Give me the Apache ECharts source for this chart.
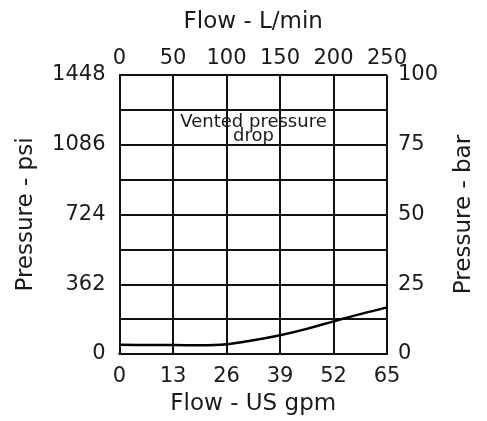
<!DOCTYPE html>
<html>
<head>
<meta charset="utf-8">
<script src="https://cdn.jsdelivr.net/npm/echarts@6/dist/echarts.min.js"></script>
<style>
html,body{margin:0;padding:0;background:#fff;}
#chart{width:487px;height:421px;}
</style>
</head>
<body>
<div id="chart"></div>
<script>
// Flow in US gpm (bottom axis)
var flowGpm = [0, 6.5, 13, 19.5, 26, 32.5, 39, 45.5, 52, 58.5, 65];
// Pressure drop in bar (right axis)
var pressureBar = [3.3, 3.25, 3.2, 3.15, 3.5, 4.9, 6.7, 9.0, 11.7, 14.3, 16.7];
var gpmTicks = [0, 13, 26, 39, 52, 65];
var lpmTicks = [0, 50, 100, 150, 200, 250];
var psiTicks = [0, 362, 724, 1086, 1448];
var barTicks = [0, 25, 50, 75, 100];
var annotation = "Vented pressure\ndrop";

var FONT = '"DejaVu Sans", sans-serif';
var TXT = '#1a1a1a';
var chart = echarts.init(document.getElementById('chart'));
var data = flowGpm.map(function (x, i) { return [x, pressureBar[i]]; });

chart.setOption({
  animation: false,
  backgroundColor: '#fff',
  grid: { left: 119.5, right: 100, top: 75, bottom: 61, containLabel: false },
  xAxis: [
    {
      type: 'value', position: 'bottom', min: gpmTicks[0], max: gpmTicks[gpmTicks.length - 1], interval: 13,
      name: 'Flow - US gpm', nameLocation: 'middle', nameGap: 39,
      nameTextStyle: { fontSize: 23, color: TXT, fontFamily: FONT },
      axisLine: { show: true, lineStyle: { color: '#111', width: 2 } },
      axisTick: { show: false },
      axisLabel: { fontSize: 21, color: TXT, fontFamily: FONT, margin: 12, formatter: function (v) { return String(v); } },
      splitLine: { show: true, lineStyle: { color: '#111', width: 2 } }
    },
    {
      type: 'value', position: 'top', min: lpmTicks[0], max: lpmTicks[lpmTicks.length - 1], interval: 50,
      name: 'Flow - L/min', nameLocation: 'middle', nameGap: 41,
      nameTextStyle: { fontSize: 23, color: TXT, fontFamily: FONT },
      axisLine: { show: true, lineStyle: { color: '#111', width: 2 } },
      axisTick: { show: false },
      axisLabel: { fontSize: 21, color: TXT, fontFamily: FONT, margin: 6, formatter: function (v) { return String(v); } },
      splitLine: { show: false }
    }
  ],
  yAxis: [
    {
      type: 'value', position: 'left', min: psiTicks[0], max: psiTicks[psiTicks.length - 1], interval: 362,
      name: 'Pressure - psi', nameLocation: 'middle', nameGap: 82, nameRotate: 90,
      nameTextStyle: { fontSize: 23, color: TXT, fontFamily: FONT },
      axisLine: { show: true, lineStyle: { color: '#111', width: 2 } },
      axisTick: { show: false },
      axisLabel: { fontSize: 21, color: TXT, fontFamily: FONT, margin: 14, formatter: function (v) { return String(v); } },
      splitLine: { show: false }
    },
    {
      type: 'value', position: 'right', min: barTicks[0], max: barTicks[barTicks.length - 1], interval: 12.5,
      name: 'Pressure - bar', nameLocation: 'middle', nameGap: 66, nameRotate: 90,
      nameTextStyle: { fontSize: 23, color: TXT, fontFamily: FONT },
      axisLine: { show: true, lineStyle: { color: '#111', width: 2 } },
      axisTick: { show: false },
      axisLabel: {
        fontSize: 21, color: TXT, fontFamily: FONT, margin: 11,
        formatter: function (v) { return barTicks.indexOf(v) >= 0 ? String(v) : ''; }
      },
      splitLine: { show: true, lineStyle: { color: '#111', width: 2 } }
    }
  ],
  graphic: [
    {
      type: 'text', x: 253.5, y: 129, z: 100,
      style: {
        text: annotation, textAlign: 'center', textVerticalAlign: 'middle', fill: TXT,
        font: '18px ' + FONT, lineHeight: 14
      }
    }
  ],
  series: [
    {
      type: 'line', xAxisIndex: 0, yAxisIndex: 1, data: data, smooth: 0.4,
      showSymbol: false, lineStyle: { color: '#000', width: 2.5 }, z: 10
    }
  ]
});
</script>
</body>
</html>
